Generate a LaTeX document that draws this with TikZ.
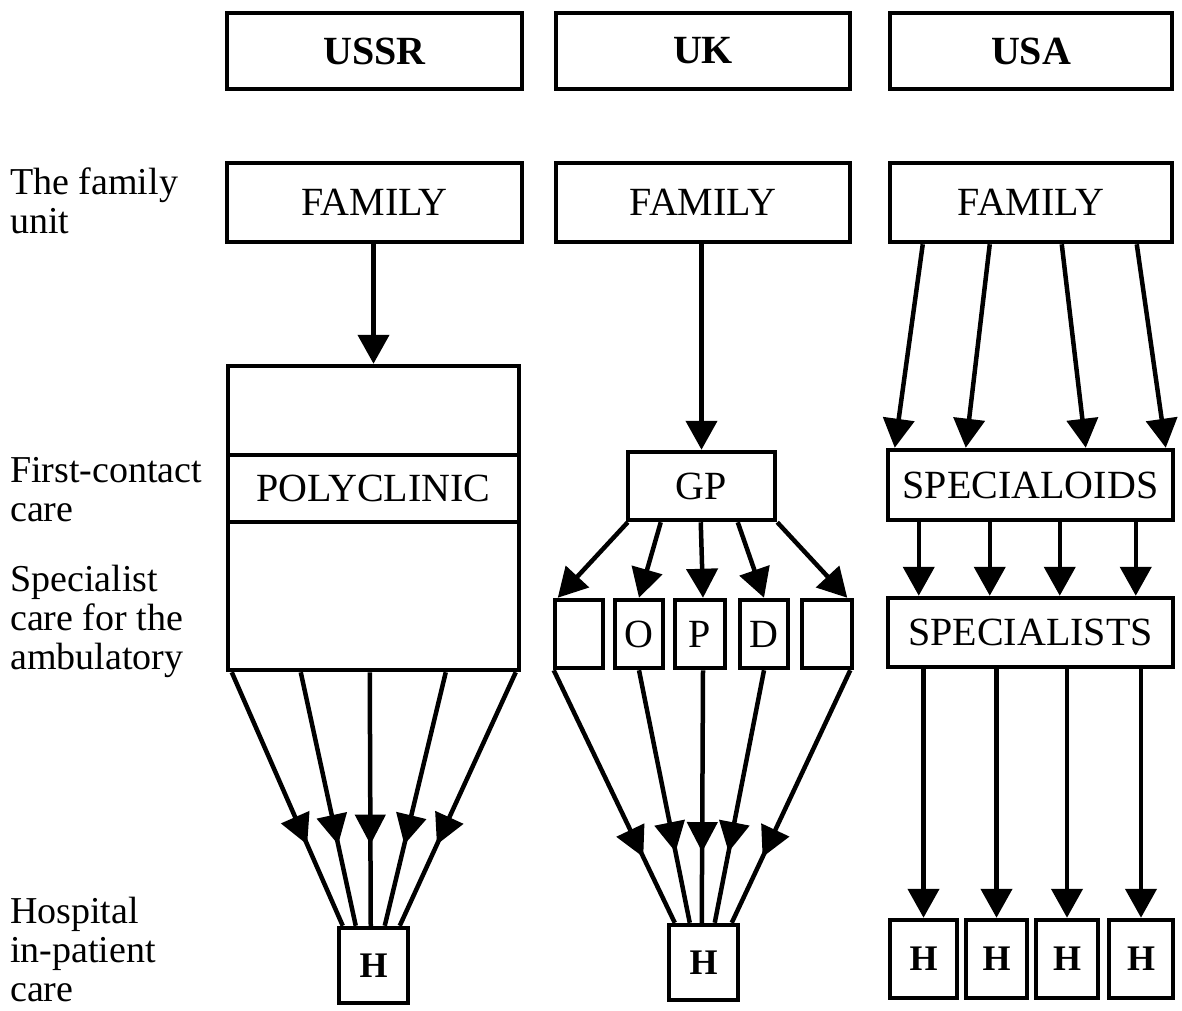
\documentclass[tikz,border=0pt]{standalone}
\usepackage{fontspec}
\setmainfont{Liberation Serif}
\usetikzlibrary{arrows.meta,decorations.markings,calc}
\begin{document}
\begin{tikzpicture}[x=1pt,y=-1pt,
  box/.style={draw, line width=4.5pt, inner sep=0pt, font=\fontsize{40}{42}\selectfont},
  hdr/.style={box, font=\fontsize{40}{42}\selectfont\bfseries},
  hbox/.style={box, font=\fontsize{36}{38}\selectfont\bfseries},
  lbl/.style={anchor=north west, inner sep=0pt, align=left, font=\fontsize{38}{39}\selectfont},
  arr/.style={line width=4.5pt, -{Triangle[length=29pt,width=31pt]}},
  midarr/.style={line width=4.5pt, postaction={decorate},
    decoration={markings, mark=at position #1 with {\arrow{Triangle[length=30pt,width=30pt]}}}},
]
\useasboundingbox (0,0) rectangle (1182,1010);

% labels
\node[lbl] (l1) at (10,168) {The family\\unit};
\node[lbl] (l2) at (10,457) {First-contact\\care};
\node[lbl] (l3) at (10,565) {Specialist\\care for the\\ambulatory};
\node[lbl] (l4) at (10,897) {Hospital\\in-patient\\care};

% USSR
\node[hdr, minimum width=295pt, minimum height=76pt] (ussrh) at (374.5,51) {USSR};
\node[box, minimum width=295pt, minimum height=79pt] (ussrf) at (374.5,202.5) {FAMILY};
\node[box, minimum width=291pt, minimum height=89pt] (ussrt) at (373.5,410.5) {};
\node[box, minimum width=291pt, minimum height=67pt] (ussrp) at (373.5,488.5) {POLYCLINIC};
\node[box, minimum width=291pt, minimum height=148pt] (ussrb) at (373.5,596) {};
\node[hbox, minimum width=69pt, minimum height=75pt] (ussrH) at (373.5,965.5) {H};
\draw[arr] (ussrf.south -| ussrt.north) -- (ussrt.north);
\foreach \s/\e in {6/6, 75/19, 144/34, 220/48, 290/63}
  \draw[midarr=0.68] ([xshift=\s pt]ussrb.south west) -- ([xshift=\e pt]ussrH.north west);

% UK
\node[hdr, minimum width=294pt, minimum height=76pt] (ukh) at (703,51) {UK};
\node[box, minimum width=294pt, minimum height=79pt] (ukf) at (703,202.5) {FAMILY};
\node[box, minimum width=147pt, minimum height=68pt] (gp) at (701.5,486) {GP};
\node[box, minimum width=48pt, minimum height=68pt] (b1) at (579,634) {};
\node[box, minimum width=48pt, minimum height=68pt] (bO) at (639,634) {O};
\node[box, minimum width=50pt, minimum height=68pt] (bP) at (700,634) {P};
\node[box, minimum width=48pt, minimum height=68pt] (bD) at (764,634) {D};
\node[box, minimum width=50pt, minimum height=68pt] (b5) at (827,634) {};
\node[hbox, minimum width=69pt, minimum height=75pt] (ukH) at (703.5,962.5) {H};
\draw[arr] (gp.north |- ukf.south) -- (gp.north);
\draw[arr] ([xshift=2pt]gp.south west) -- ([xshift=5pt]b1.north west);
\draw[arr] ([xshift=35pt]gp.south west) -- (bO.north);
\draw[arr] ([xshift=75pt]gp.south west) -- ([xshift=3pt]bP.north);
\draw[arr] ([xshift=112pt]gp.south west) -- (bD.north);
\draw[arr] (gp.south east) -- ([xshift=-7pt]b5.north east);
\draw[midarr=0.74] ([xshift=1pt]b1.south west) -- ([xshift=8pt]ukH.north west);
\draw[midarr=0.72] (bO.south) -- ([xshift=23pt]ukH.north west);
\draw[midarr=0.72] ([xshift=3pt]bP.south) -- ([xshift=35pt]ukH.north west);
\draw[midarr=0.72] (bD.south) -- ([xshift=48pt]ukH.north west);
\draw[midarr=0.74] ([xshift=-4pt]b5.south east) -- ([xshift=65pt]ukH.north west);

% USA
\node[hdr, minimum width=282pt, minimum height=76pt] (usah) at (1031,51) {USA};
\node[box, minimum width=282pt, minimum height=79pt] (usaf) at (1031,202.5) {FAMILY};
\node[box, minimum width=285pt, minimum height=70pt] (spo) at (1030.5,485) {SPECIALOIDS};
\node[box, minimum width=285pt, minimum height=69pt] (spi) at (1030.5,632.5) {SPECIALISTS};
\node[hbox, minimum width=67pt, minimum height=78pt] (h1) at (923.5,959) {H};
\node[hbox, minimum width=61pt, minimum height=78pt] (h2) at (996.5,959) {H};
\node[hbox, minimum width=62pt, minimum height=78pt] (h3) at (1067,959) {H};
\node[hbox, minimum width=64pt, minimum height=78pt] (h4) at (1141,959) {H};
\foreach \s/\e in {35/9, 102/80, 174/200, 249/280}
  \draw[arr] ([xshift=\s pt]usaf.south west) -- ([xshift=\e pt]spo.north west);
\foreach \s in {33, 104, 174, 250}
  \draw[arr] ([xshift=\s pt]spo.south west) -- ([xshift=\s pt]spi.north west);
\foreach \h in {h1,h2,h3,h4}
  \draw[arr] (\h.north |- spi.south) -- (\h.north);
\end{tikzpicture}
\end{document}
